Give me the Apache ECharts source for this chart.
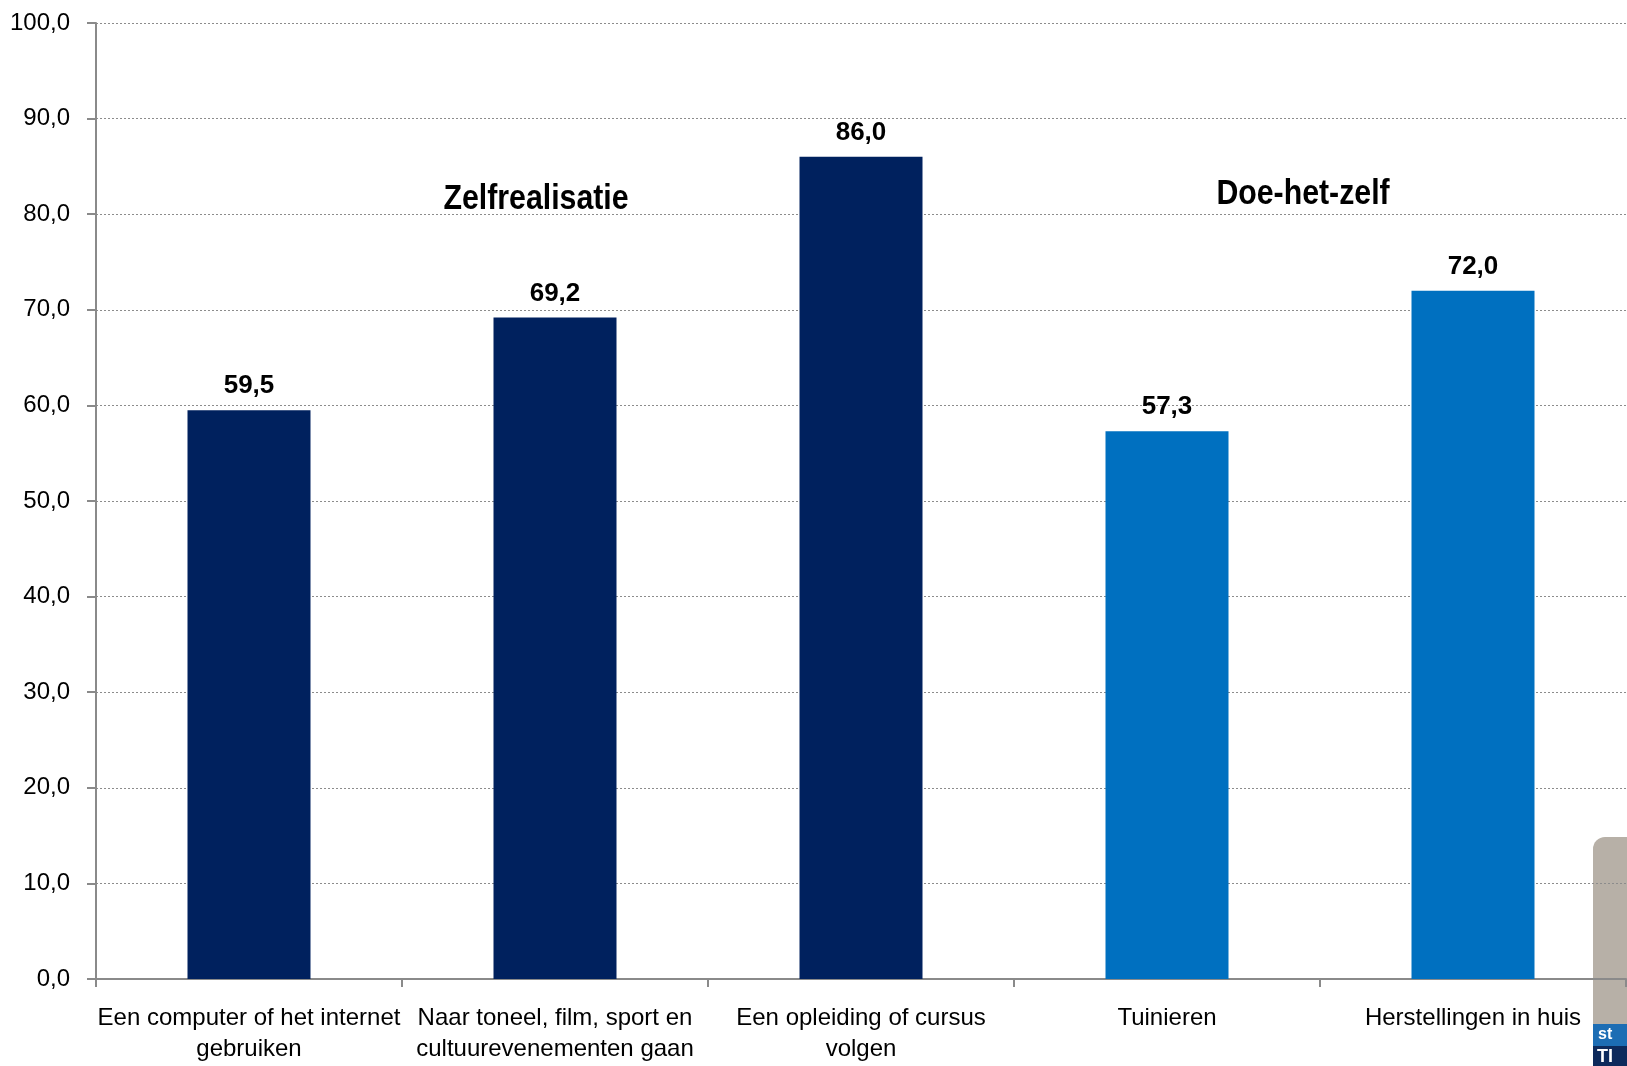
<!DOCTYPE html>
<html>
<head>
<meta charset="utf-8">
<script src="https://cdn.jsdelivr.net/npm/echarts@6/dist/echarts.min.js"></script>
<style>
html,body{margin:0;padding:0;background:#fff;}
#c{width:1627px;height:1066px;}
</style>
</head>
<body>
<div id="c"></div>
<script>
const categories = [
  "Een computer of het internet\ngebruiken",
  "Naar toneel, film, sport en\ncultuurevenementen gaan",
  "Een opleiding of cursus\nvolgen",
  "Tuinieren",
  "Herstellingen in huis"
];
const values = [59.5, 69.2, 86.0, 57.3, 72.0];
const groups = ["Zelfrealisatie", "Zelfrealisatie", "Zelfrealisatie", "Doe-het-zelf", "Doe-het-zelf"];
const groupColors = { "Zelfrealisatie": "#00215E", "Doe-het-zelf": "#0070C0" };
const yTicks = { min: 0, max: 100, interval: 10 };

const regular = "'Liberation Sans', Arial, sans-serif";

const chart = echarts.init(document.getElementById('c'));
chart.setOption({
  animation: false,
  backgroundColor: '#ffffff',
  grid: { left: 96, right: 1, top: 23, bottom: 87 },
  xAxis: {
    type: 'category',
    data: categories,
    axisLine: { lineStyle: { color: '#8a8a8a', width: 2 } },
    axisTick: { show: true, length: 8, lineStyle: { color: '#8a8a8a', width: 2 } },
    axisLabel: {
      color: '#000', fontFamily: regular, fontSize: 24, lineHeight: 31,
      margin: 24, interval: 0
    }
  },
  yAxis: {
    type: 'value',
    min: yTicks.min, max: yTicks.max, interval: yTicks.interval,
    axisLine: { show: true, lineStyle: { color: '#8a8a8a', width: 2 } },
    axisTick: { show: true, inside: false, length: 9, lineStyle: { color: '#8a8a8a', width: 2 } },
    axisLabel: {
      color: '#000', fontFamily: regular, fontSize: 24, margin: 26,
      formatter: v => v.toFixed(1).replace('.', ',')
    },
    splitLine: { show: true, lineStyle: { color: '#8c8c8c', width: 1, type: [2, 2] } }
  },
  series: [{
    type: 'bar',
    barWidth: 123,
    data: values.map((v, i) => ({ value: v, itemStyle: { color: groupColors[groups[i]] } })),
    label: {
      show: true, position: 'top', distance: 11,
      color: '#000', fontFamily: regular, fontWeight: 'bold', fontSize: 26,
      formatter: p => p.value.toFixed(1).replace('.', ',')
    }
  }],
  graphic: [
    { type: 'text', x: 536, y: 199, scaleX: 0.865, style: { text: 'Zelfrealisatie', fill: '#000', font: "bold 35px " + regular, textAlign: 'center', textVerticalAlign: 'middle' } },
    { type: 'text', x: 1303, y: 194, scaleX: 0.865, style: { text: 'Doe-het-zelf', fill: '#000', font: "bold 35px " + regular, textAlign: 'center', textVerticalAlign: 'middle' } },
    { type: 'rect', shape: { x: 1593, y: 837, width: 60, height: 240, r: 12 }, style: { fill: '#B7B0A7' } },
    { type: 'rect', shape: { x: 1593, y: 1024, width: 40, height: 22 }, style: { fill: '#1C6DB4' } },
    { type: 'rect', shape: { x: 1593, y: 1046, width: 40, height: 20 }, style: { fill: '#0D2A5C' } },
    { type: 'text', x: 1598, y: 1035, style: { text: 'st', fill: '#fff', font: "bold 16px " + regular, textVerticalAlign: 'middle' } },
    { type: 'text', x: 1597, y: 1057, style: { text: 'TI', fill: '#fff', font: "bold 18px " + regular, textVerticalAlign: 'middle' } }
  ]
});
</script>
</body>
</html>
